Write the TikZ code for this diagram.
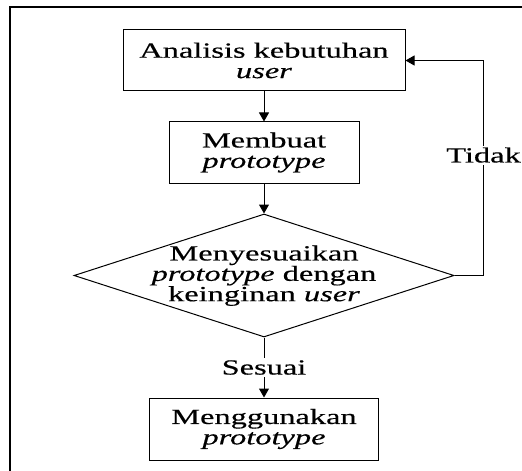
\documentclass[tikz,border=0pt]{standalone}
\usepackage{fontspec}
\setmainfont{Liberation Serif}[FakeStretch=1.5,FakeBold=0.4]
\usetikzlibrary{shapes.geometric,arrows.meta}

\begin{document}
\begin{tikzpicture}[x=0.5pt,y=-0.5pt,
    box/.style={draw,line width=0.5pt,rectangle,align=center,inner sep=0pt,minimum height=30.5pt},
    cek/.style={draw,line width=0.5pt,diamond,aspect=3.09,inner sep=0pt,minimum width=190pt,minimum height=61.5pt},
    flow/.style={line width=0.5pt,-{Triangle[width=5pt,length=4.5pt]}},
    lbl/.style={fill=white,inner sep=1pt},
    font=\fontsize{10.8}{10.2}\selectfont]

    \clip (0, 0) rectangle (522, 470);
    \draw[line width=1.1pt] (10, 7) rectangle (560, 520);

    \node[box,minimum width=141pt] (analisis) at (264, 60.5) {Analisis kebutuhan\\\textit{user}};
    \node[box,minimum width=95pt] (membuat) at (264, 152.5) {Membuat\\\textit{prototype}};
    \node[cek] (sesuaikan) at (264, 275.5) {\renewcommand\arraystretch{0.88}\smash{\raisebox{-3pt}{\begin{tabular}{@{}c@{}}Menyesuaikan\\\textit{prototype} dengan\\keinginan \textit{user}\end{tabular}}}};
    \node[box,minimum width=114.5pt,minimum height=31pt] (guna) at (264, 429) {Menggunakan\\\textit{prototype}};

    \draw[flow] (analisis) -- (membuat);
    \draw[flow] (membuat) -- (sesuaikan);
    \draw[flow] (sesuaikan) -- node[lbl] {Sesuai} (guna);
    \draw[flow] (sesuaikan.east) -- ++(29, 0) |- node[lbl,pos=0.28] {Tidak} (analisis.east);

  \end{tikzpicture}
\end{document}
